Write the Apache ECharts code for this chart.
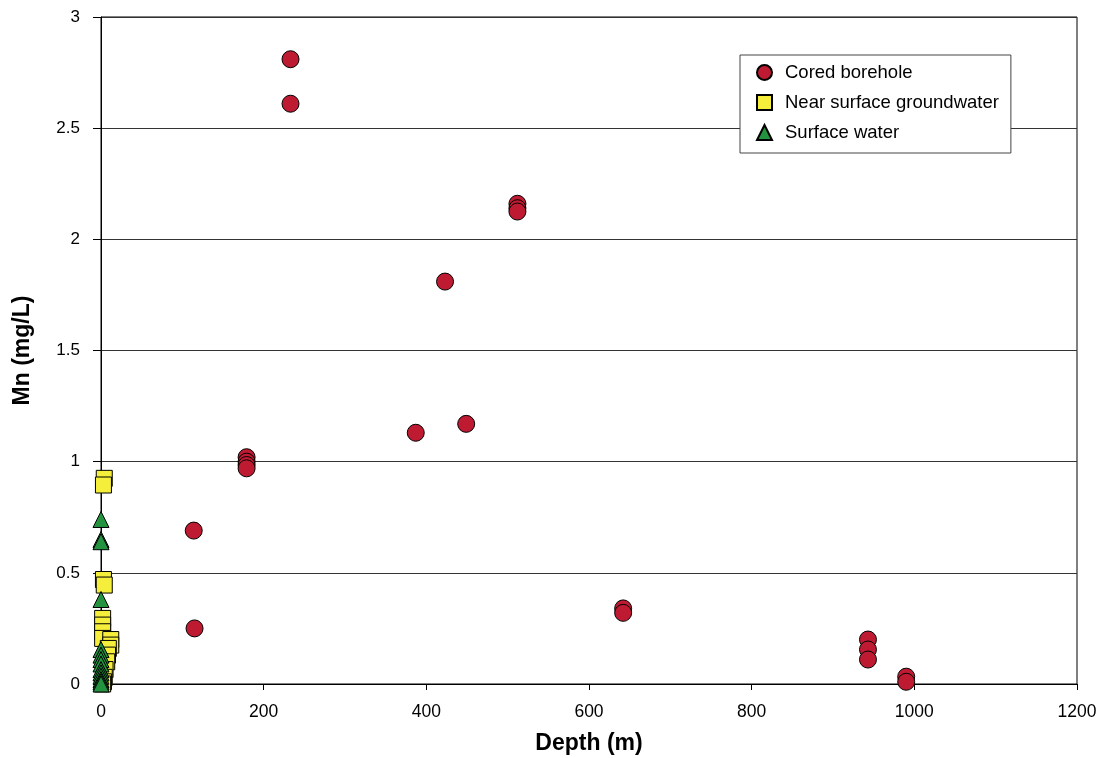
<!DOCTYPE html>
<html>
<head>
<meta charset="utf-8">
<script src="https://cdn.jsdelivr.net/npm/echarts@6/dist/echarts.min.js"></script>
<style>
html,body{margin:0;padding:0;background:#fff;}
#chart{width:1101px;height:758px;}
</style>
</head>
<body>
<div id="chart"></div>
<script>
// Cored borehole: [depth (m), Mn (mg/L)]
const coredBorehole = [
  [233, 2.81], [233, 2.61],
  [512, 2.16], [512, 2.14], [512, 2.125],
  [423, 1.81],
  [387, 1.13], [449, 1.17],
  [179, 1.02], [179, 1.00], [179, 0.985], [179, 0.97],
  [114, 0.69], [115, 0.25],
  [642, 0.34], [642, 0.32],
  [943, 0.20], [943, 0.155], [943, 0.11],
  [990, 0.033], [990, 0.01]
];
// Near surface groundwater
const nearSurface = [
  [4, 0.925], [3, 0.895],
  [3, 0.47], [4, 0.445],
  [2, 0.295], [2, 0.265], [2, 0.235], [2, 0.205],
  [12, 0.20], [12, 0.175], [9, 0.16], [8, 0.13],
  [7, 0.10], [5, 0.065], [4, 0.03], [3, 0.01], [2, 0.0]
];
// Surface water
const surfaceWater = [
  [0, 0.74], [0, 0.65], [0, 0.64], [0, 0.38],
  [0, 0.155], [0, 0.13], [0, 0.11], [0, 0.09], [0, 0.065],
  [0, 0.05], [0, 0.035], [0, 0.02], [0, 0.01], [0, 0.0]
];
const seriesNames = ['Cored borehole', 'Near surface groundwater', 'Surface water'];
const xTicks = [0, 1200, 200];   // min, max, interval
const yTicks = [0, 3, 0.5];

const font = 'Liberation Sans, Arial, Helvetica, sans-serif';
const chart = echarts.init(document.getElementById('chart'));
chart.setOption({
  animation: false,
  backgroundColor: '#fff',
  grid: {left: 101, right: 24, top: 17, bottom: 74, show: true, borderColor: '#000', borderWidth: 1,
         containLabel: false, outerBoundsMode: 'none'},
  legend: {
    left: 740, top: 55, orient: 'vertical',
    backgroundColor: '#fff', borderColor: '#444', borderWidth: 1,
    padding: [8, 12, 11, 16],
    itemGap: 11, itemWidth: 15, itemHeight: 15,
    textStyle: {fontFamily: font, fontSize: 18.5, lineHeight: 19, color: '#000', padding: [0, 0, 0, 8]},
    data: [
      {name: seriesNames[0], icon: 'circle'},
      {name: seriesNames[1], icon: 'rect'},
      {name: seriesNames[2], icon: 'triangle'}
    ]
  },
  xAxis: {
    type: 'value', min: xTicks[0], max: xTicks[1], interval: xTicks[2],
    name: 'Depth (m)', nameLocation: 'middle', nameGap: 48,
    nameTextStyle: {fontFamily: font, fontSize: 23, fontWeight: 'bold', color: '#000'},
    axisLine: {show: true, lineStyle: {color: '#000', width: 1}},
    axisTick: {show: true, inside: false, length: 6, lineStyle: {color: '#000'}},
    axisLabel: {fontFamily: font, fontSize: 17.5, color: '#000', margin: 19, formatter: v => String(v)},
    splitLine: {show: false}
  },
  yAxis: {
    type: 'value', min: yTicks[0], max: yTicks[1], interval: yTicks[2],
    name: 'Mn (mg/L)', nameLocation: 'middle', nameGap: 67, nameRotate: 90,
    nameTextStyle: {fontFamily: font, fontSize: 23, fontWeight: 'bold', color: '#000'},
    axisLine: {show: true, lineStyle: {color: '#000', width: 1}},
    axisTick: {show: true, inside: false, length: 8, lineStyle: {color: '#000'}},
    axisLabel: {fontFamily: font, fontSize: 17, color: '#000', margin: 21, formatter: v => String(v)},
    splitLine: {show: true, lineStyle: {color: '#333', width: 1}}
  },
  series: [
    {
      name: seriesNames[0], type: 'scatter', symbol: 'circle', symbolSize: 17,
      itemStyle: {color: '#BE1B32', borderColor: '#000', borderWidth: 1, opacity: 1},
      data: coredBorehole
    },
    {
      name: seriesNames[1], type: 'scatter', symbol: 'rect', symbolSize: 16,
      itemStyle: {color: '#F5EE3A', borderColor: '#000', borderWidth: 1, opacity: 1},
      data: nearSurface
    },
    {
      name: seriesNames[2], type: 'scatter', symbol: 'triangle', symbolSize: 16,
      itemStyle: {color: '#23933F', borderColor: '#000', borderWidth: 1, opacity: 1},
      data: surfaceWater
    }
  ]
});
</script>
</body>
</html>
